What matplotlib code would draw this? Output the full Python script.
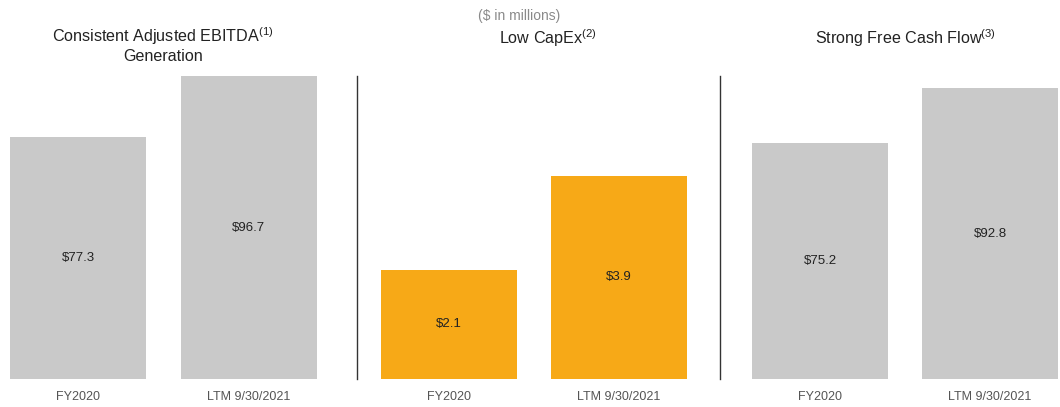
import matplotlib
matplotlib.use("Agg")
import matplotlib.pyplot as plt
from matplotlib.lines import Line2D

plt.rcParams['font.family'] = ['Liberation Sans', 'DejaVu Sans']
plt.rcParams['mathtext.fontset'] = 'custom'
plt.rcParams['mathtext.rm'] = 'Liberation Sans'
plt.rcParams['mathtext.it'] = 'Liberation Sans'

# data
periods = ['FY2020', 'LTM 9/30/2021']
ebitda = [77.3, 96.7]
capex = [2.1, 3.9]
fcf = [75.2, 92.8]
titles = ['Consistent Adjusted EBITDA$^{(1)}$\nGeneration',
          'Low CapEx$^{(2)}$',
          'Strong Free Cash Flow$^{(3)}$']

gray = '#C9C9C9'
orange = '#F7A917'

W, H = 1060, 407
fig = plt.figure(figsize=(W / 100, H / 100), dpi=100)

bottom = (H - 379) / H
height = (379 - 76) / H
panels = [
    (10, 317, ebitda, gray, 96.7),
    (381, 687, capex, orange, 5.82),
    (752, 1058, fcf, gray, 96.7),
]
# title centres / vertical positions (pixels)
title_pos = [(163, 45), (548, 38), (906, 38)]

for i, (x0, x1, vals, col, top) in enumerate(panels):
    ax = fig.add_axes([x0 / W, bottom, (x1 - x0) / W, height])
    bars = ax.bar(range(len(periods)), vals, width=0.8, color=col)
    ax.bar_label(bars, labels=['$%.1f' % v for v in vals], label_type='center',
                 fontsize=9.5, color='#222222')
    ax.set_xlim(-0.4, 1.4)
    ax.set_ylim(0, top)
    ax.set_xticks(range(len(periods)))
    ax.set_xticklabels(periods, fontsize=9, color='#555555')
    ax.tick_params(axis='x', length=0, pad=9)
    ax.set_yticks([])
    for s in ax.spines.values():
        s.set_visible(False)
    tx, ty = title_pos[i]
    fig.text(tx / W, 1 - ty / H, titles[i], ha='center', va='center',
             fontsize=11.6, color='#222222', linespacing=1.15)

fig.text(519 / W, 1 - 16 / H, '($ in millions)', ha='center', va='center',
         fontsize=10, color='#8a8a8a')

for xd in (357, 720):
    fig.add_artist(Line2D([xd / W, xd / W], [bottom, 1 - 76 / H],
                          color='#333333', linewidth=1.0))

fig.savefig('out.png', dpi=100)
